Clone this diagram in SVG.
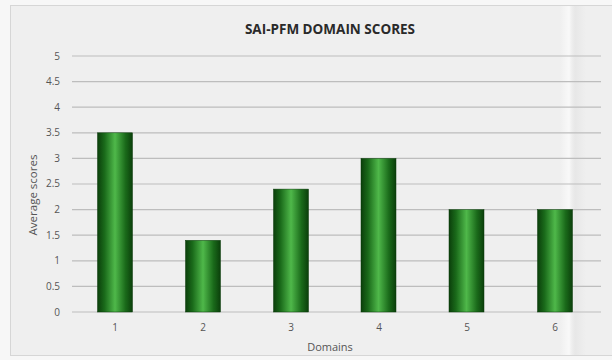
<svg xmlns="http://www.w3.org/2000/svg" width="612" height="360" viewBox="0 0 612 360">
<defs>
<linearGradient id="bar" x1="0" y1="0" x2="1" y2="0">
<stop offset="0" stop-color="#0b3f0b"/>
<stop offset="0.2" stop-color="#1a6a1a"/>
<stop offset="0.5" stop-color="#4fb84a"/>
<stop offset="0.8" stop-color="#1a6a1a"/>
<stop offset="1" stop-color="#0b3f0b"/>
</linearGradient>
<linearGradient id="fold" x1="0" y1="0" x2="1" y2="0">
<stop offset="0" stop-color="#ffffff" stop-opacity="0"/>
<stop offset="0.35" stop-color="#ffffff" stop-opacity="0.6"/>
<stop offset="0.6" stop-color="#d6d6d6" stop-opacity="0.3"/>
<stop offset="1" stop-color="#d6d6d6" stop-opacity="0"/>
</linearGradient>
<style>
.tick{font-family:"Open Sans","Liberation Sans",sans-serif;font-size:10px;fill:#555;}
.grid{stroke:#bdbdbd;stroke-width:1.2;}
.bar{fill:url(#bar);stroke:#0a3a0a;stroke-width:0.5;}
</style>
</defs>
<rect width="612" height="360" fill="#f7f7f7"/>
<rect x="10.5" y="5.5" width="606" height="350" fill="#efefef" stroke="#d6d6d6"/>
<rect x="560" y="6" width="26" height="349" fill="url(#fold)"/>
<text x="330" y="34" text-anchor="middle" font-family="'Open Sans','Liberation Sans',sans-serif" font-weight="700" font-size="13.5" fill="#2a2a2a">SAI-PFM DOMAIN SCORES</text>
<g id="grid">
<line class="grid" x1="72" y1="56" x2="601" y2="56"/>
<line class="grid" x1="72" y1="81.6" x2="601" y2="81.6"/>
<line class="grid" x1="72" y1="107.2" x2="601" y2="107.2"/>
<line class="grid" x1="72" y1="132.8" x2="601" y2="132.8"/>
<line class="grid" x1="72" y1="158.4" x2="601" y2="158.4"/>
<line class="grid" x1="72" y1="184" x2="601" y2="184"/>
<line class="grid" x1="72" y1="209.6" x2="601" y2="209.6"/>
<line class="grid" x1="72" y1="235.2" x2="601" y2="235.2"/>
<line class="grid" x1="72" y1="260.8" x2="601" y2="260.8"/>
<line class="grid" x1="72" y1="286.4" x2="601" y2="286.4"/>
<line class="grid" x1="72" y1="312" x2="601" y2="312"/>
</g>
<g id="yticks" text-anchor="end">
<text class="tick" x="60" y="59.5">5</text>
<text class="tick" x="60" y="85">4.5</text>
<text class="tick" x="60" y="110.5">4</text>
<text class="tick" x="60" y="136">3.5</text>
<text class="tick" x="60" y="161.5">3</text>
<text class="tick" x="60" y="187">2.5</text>
<text class="tick" x="60" y="213">2</text>
<text class="tick" x="60" y="238.5">1.5</text>
<text class="tick" x="60" y="264">1</text>
<text class="tick" x="60" y="290">0.5</text>
<text class="tick" x="60" y="315.5">0</text>
</g>
<text transform="translate(37,195) rotate(-90)" text-anchor="middle" font-family="'Open Sans','Liberation Sans',sans-serif" font-size="11.5" fill="#555">Average scores</text>
<g id="bars">
<rect class="bar" x="97.5" y="132.8" width="35" height="179.2"/>
<rect class="bar" x="185.5" y="240.3" width="35" height="71.7"/>
<rect class="bar" x="273.5" y="189.1" width="35" height="122.9"/>
<rect class="bar" x="361" y="158.4" width="35" height="153.6"/>
<rect class="bar" x="449" y="209.6" width="35" height="102.4"/>
<rect class="bar" x="537.5" y="209.6" width="35" height="102.4"/>
</g>
<g id="xticks" text-anchor="middle">
<text class="tick" x="115" y="331">1</text>
<text class="tick" x="203" y="331">2</text>
<text class="tick" x="291" y="331">3</text>
<text class="tick" x="379" y="331">4</text>
<text class="tick" x="467" y="331">5</text>
<text class="tick" x="555" y="331">6</text>
</g>
<text x="330" y="351" text-anchor="middle" font-family="'Open Sans','Liberation Sans',sans-serif" font-size="11" fill="#555">Domains</text>
</svg>
